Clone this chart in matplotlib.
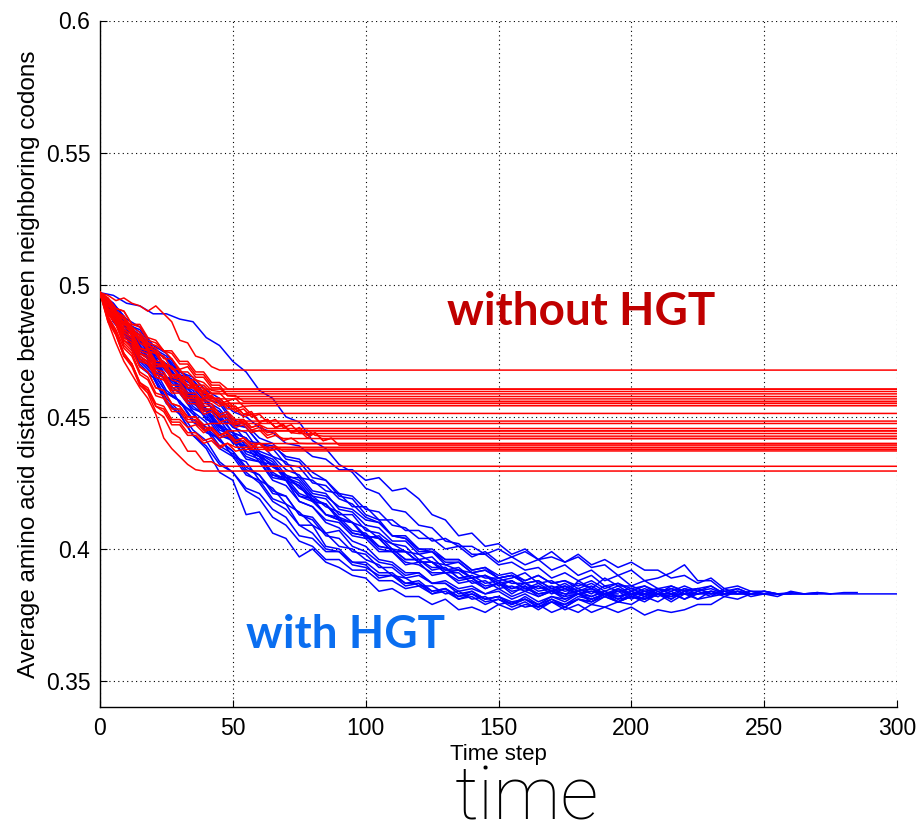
import matplotlib
matplotlib.use("Agg")
import matplotlib.pyplot as plt
import numpy as np

# ---------------- data ----------------
T_END = 300          # simulation length (time steps)
BLUE_DT = 5          # sampling interval of the blue runs
RED_DT = 3           # sampling interval of the red runs

# with HGT (blue runs) - average amino-acid distance every BLUE_DT steps
blue_runs = [
    [.497,.486,.480,.469,.465,.455,.451,.443,.438,.429,.426,.413,.414,.406,.404,.397,.400,.395,.393,.390,.389,.384,.385,.382,.382,.379,.381,.377,.378,.376,.379,.377,.379,.378,.380,.378,.381,.380,.383,.381,.382,.384,.382],
    [.497,.496,.493,.492,.489,.489,.487,.486,.480,.477,.471,.467,.460,.457,.450,.448,.441,.438,.432,.429,.423,.421,.415,.414,.409,.408,.403,.402,.398,.398,.394,.395,.392,.393,.389,.391,.388,.390,.386,.387,.385,.386,.384,.385,.383,.383],
    [.497,.492,.485,.481,.475,.472,.467,.465,.460,.457,.452,.450,.446,.444,.440,.439,.435,.434,.430,.430,.426,.427,.422,.423,.419,.413,.411,.405,.406,.401,.402,.398,.400,.396,.399,.395,.397,.393,.394,.390,.392,.388,.389,.391,.394,.388,.388,.384,.385,.383,.383],
    [.497,.489,.486,.478,.475,.468,.465,.458,.456,.449,.447,.441,.440,.435,.433,.427,.426,.422,.421,.416,.416,.411,.411,.407,.407,.403,.404,.401,.401,.398,.400,.397,.399,.396,.397,.395,.398,.394,.396,.393,.395,.392,.392,.389,.390,.387,.389,.385,.386,.384,.384,.383],
    [.497,.488,.482,.473,.469,.460,.456,.448,.445,.438,.435,.428,.426,.419,.417,.409,.406,.400,.399,.395,.394,.389,.390,.386,.387,.383,.385,.381,.383,.380,.381,.379,.381,.378,.380,.377,.379,.376,.378,.376,.378,.375,.377,.376,.377,.379,.379,.382,.381,.383],
    [.497,.490,.481,.477,.468,.464,.455,.452,.444,.442,.435,.433,.426,.423,.417,.414,.409,.406,.401,.400,.396,.394,.390,.389,.386,.386,.383,.384,.381,.382,.379,.380,.378,.379,.376,.378,.376,.379,.378,.380,.379,.382,.380,.383,.381,.383,.383],
    [.497,.490,.485,.478,.473,.467,.463,.457,.453,.447,.444,.439,.436,.431,.428,.423,.420,.416,.414,.410,.408,.404,.402,.399,.398,.395,.394,.392,.391,.389,.389,.387,.387,.385,.386,.384,.385,.383,.386,.384,.385,.383,.385,.384,.386,.384,.385,.383,.384,.383,.384,.383,.3835,.383,.3835,.383,.383,.383,.383,.383,.383],
    [.497,.488,.484,.476,.471,.465,.460,.454,.450,.443,.441,.434,.433,.426,.424,.418,.416,.411,.410,.405,.404,.399,.399,.395,.394,.391,.391,.388,.389,.385,.387,.383,.386,.382,.384,.381,.383,.380,.383,.380,.382,.381,.383,.380,.383,.381,.384,.382,.384,.382,.383,.382,.384,.383,.3835,.383,.3835,.3835],
    [.497,.492,.484,.479,.472,.469,.463,.459,.453,.450,.444,.442,.436,.434,.428,.426,.420,.419,.413,.413,.407,.406,.402,.401,.396,.397,.392,.393,.389,.390,.387,.388,.385,.387,.384,.386,.383,.385,.382,.385,.382,.381,.384,.381,.384,.385,.386,.383,.385,.383,.384,.383,.383,.383,.383],
    [.497,.489,.484,.476,.473,.465,.462,.456,.452,.446,.442,.437,.435,.429,.426,.420,.418,.413,.411,.406,.405,.401,.400,.396,.396,.392,.393,.389,.389,.386,.387,.385,.386,.383,.384,.382,.388,.385,.383,.380,.382,.381,.383,.382,.385,.384,.386,.383,.384,.383,.383,.383,.383],
    [.497,.493,.486,.482,.475,.472,.465,.462,.456,.453,.447,.446,.440,.439,.435,.434,.429,.426,.420,.419,.413,.411,.405,.404,.399,.399,.395,.395,.391,.392,.389,.390,.388,.390,.387,.388,.386,.388,.385,.387,.384,.386,.383,.385,.384,.383,.384,.383,.383],
    [.497,.487,.481,.472,.467,.459,.456,.451,.446,.439,.436,.429,.425,.418,.415,.409,.409,.401,.400,.395,.395,.391,.391,.387,.388,.384,.385,.382,.384,.381,.382,.380,.381,.379,.381,.378,.381,.380,.382,.380,.382,.380,.383,.381,.384,.381,.382,.383],
    [.497,.491,.484,.480,.472,.468,.460,.456,.449,.447,.441,.439,.435,.432,.426,.424,.418,.417,.411,.410,.404,.405,.400,.399,.395,.395,.391,.392,.389,.390,.388,.389,.391,.387,.388,.385,.387,.385,.389,.386,.386,.384,.385,.383,.383],
    [.497,.487,.481,.472,.467,.459,.456,.449,.446,.441,.437,.431,.428,.421,.420,.413,.412,.406,.407,.401,.399,.395,.394,.390,.391,.387,.388,.385,.386,.383,.384,.381,.383,.380,.382,.380,.383,.382,.384,.382,.384,.382,.383,.383],
    [.497,.490,.486,.478,.474,.465,.464,.456,.453,.446,.444,.437,.435,.428,.427,.421,.419,.413,.411,.406,.405,.400,.399,.394,.395,.390,.391,.387,.388,.385,.387,.384,.385,.383,.384,.382,.383,.381,.383,.382,.383,.383],
    [.497,.491,.483,.479,.471,.468,.460,.457,.449,.447,.440,.439,.433,.432,.427,.427,.421,.420,.416,.415,.411,.410,.405,.405,.400,.400,.396,.396,.392,.393,.389,.390,.387,.388,.385,.386,.384,.385,.383,.384,.383],
    [.497,.489,.484,.475,.470,.463,.459,.453,.451,.444,.441,.435,.433,.427,.426,.418,.416,.410,.408,.403,.401,.396,.395,.391,.391,.387,.387,.383,.384,.381,.382,.379,.381,.378,.381,.379,.382,.381,.383,.383],
    [.497,.491,.484,.481,.474,.470,.463,.460,.453,.451,.444,.442,.436,.433,.427,.425,.419,.417,.412,.410,.405,.404,.399,.399,.395,.395,.391,.391,.387,.388,.385,.386,.384,.386,.383,.385,.383,.384,.383],
    [.497,.488,.482,.474,.471,.463,.459,.452,.448,.441,.437,.430,.428,.422,.420,.413,.411,.405,.404,.399,.398,.393,.393,.389,.390,.387,.387,.384,.385,.383,.385,.382,.384,.382,.384,.383,.383],
    [.497,.492,.485,.483,.476,.473,.466,.464,.457,.455,.448,.446,.440,.438,.432,.431,.425,.424,.419,.417,.412,.410,.405,.404,.400,.399,.396,.396,.392,.393,.390,.391,.388,.390,.387,.388,.385,.387,.384,.386,.383,.385,.383,.386,.384,.385,.383,.384,.383,.383,.383],
    [.497,.487,.480,.471,.466,.457,.452,.445,.441,.433,.429,.423,.421,.415,.412,.405,.404,.399,.399,.394,.393,.390,.390,.387,.387,.384,.385,.382,.383,.381,.382,.379,.382,.379,.382,.381,.383,.381,.383,.382,.383,.383,.383],
    [.497,.491,.483,.479,.472,.468,.461,.458,.452,.449,.442,.440,.435,.432,.427,.424,.418,.417,.411,.410,.405,.404,.399,.399,.395,.395,.392,.392,.389,.390,.386,.388,.385,.386,.384,.385,.383,.384,.382,.384,.381,.383,.382,.384,.381,.384,.382,.385,.383,.384,.383,.383,.383,.383,.383,.383],
    [.497,.493,.487,.484,.477,.474,.467,.464,.458,.456,.449,.447,.442,.440,.434,.433,.427,.426,.421,.420,.415,.414,.409,.408,.404,.404,.400,.401,.397,.399,.395,.397,.394,.396,.392,.394,.390,.392,.388,.390,.386,.388,.385,.386,.384,.385,.383,.383],
    [.497,.486,.480,.470,.465,.456,.451,.443,.439,.432,.429,.422,.419,.412,.409,.403,.401,.396,.396,.392,.392,.388,.388,.385,.386,.383,.384,.381,.382,.379,.381,.378,.380,.377,.380,.379,.381,.379,.382,.380,.383,.381,.383,.382,.383,.383],
    [.497,.490,.485,.477,.472,.465,.462,.455,.452,.445,.443,.436,.434,.428,.426,.420,.419,.413,.412,.407,.406,.401,.400,.396,.396,.393,.393,.389,.390,.387,.388,.385,.387,.384,.385,.383,.384,.382,.384,.381,.384,.382,.385,.383,.385,.383,.384,.383,.383,.383],
    [.497,.491,.484,.481,.473,.470,.464,.461,.455,.452,.446,.444,.437,.435,.430,.428,.422,.421,.415,.414,.409,.408,.403,.403,.398,.399,.394,.395,.391,.392,.389,.390,.387,.388,.385,.387,.384,.386,.383,.385,.383,.384,.383,.383],
]

# without HGT (red runs) - every RED_DT steps; last value = frozen level kept to T_END
red_runs = [
    [.497,.496,.494,.495,.493,.492,.490,.492,.489,.486,.479,.478,.473,.472,.469,.4677],
    [.497,.492,.490,.485,.484,.479,.478,.474,.473,.468,.468,.464,.464,.4605],
    [.497,.494,.489,.488,.484,.482,.478,.477,.475,.472,.467,.467,.464,.463,.460,.4596],
    [.497,.490,.488,.483,.481,.476,.475,.470,.470,.466,.465,.461,.462,.459,.4587],
    [.497,.495,.491,.490,.485,.484,.479,.478,.475,.474,.470,.470,.466,.466,.462,.462,.458,.4577],
    [.497,.489,.486,.480,.478,.472,.471,.466,.465,.460,.460,.457,.4568],
    [.497,.494,.489,.487,.482,.481,.477,.476,.472,.472,.468,.469,.465,.465,.461,.461,.458,.458,.4559],
    [.497,.490,.488,.482,.480,.475,.474,.469,.469,.465,.464,.461,.461,.457,.458,.455,.4551],
    [.497,.493,.488,.486,.481,.480,.475,.474,.470,.469,.465,.465,.462,.462,.459,.459,.456,.457,.454,.4542],
    [.497,.491,.489,.483,.481,.476,.475,.470,.469,.465,.465,.461,.461,.457,.458,.455,.456,.453,.454,.451,.4513],
    [.497,.490,.487,.481,.479,.473,.471,.466,.465,.460,.460,.456,.456,.452,.453,.450,.451,.448,.4484],
    [.497,.489,.485,.478,.475,.469,.467,.461,.460,.455,.454,.450,.450,.447,.4475],
    [.497,.492,.490,.484,.482,.476,.475,.470,.469,.464,.463,.459,.459,.455,.455,.451,.452,.449,.449,.446,.447,.4456],
    [.497,.491,.488,.482,.480,.474,.473,.468,.467,.462,.462,.458,.458,.454,.454,.450,.451,.448,.449,.446,.447,.444,.4447],
    [.497,.494,.489,.487,.482,.480,.475,.474,.469,.469,.465,.464,.460,.460,.457,.457,.454,.454,.451,.451,.448,.449,.446,.447,.444,.4437],
    [.497,.492,.490,.485,.483,.478,.476,.471,.471,.466,.466,.462,.462,.458,.458,.455,.455,.452,.453,.450,.451,.448,.449,.446,.447,.444,.445,.443,.4427],
    [.497,.490,.487,.480,.478,.472,.470,.465,.464,.459,.459,.455,.455,.451,.452,.448,.449,.446,.447,.444,.445,.442,.443,.4418],
    [.497,.491,.489,.482,.480,.474,.472,.467,.466,.461,.461,.457,.457,.453,.453,.450,.450,.447,.448,.445,.446,.443,.444,.441,.442,.440,.4399],
    [.497,.488,.483,.476,.473,.466,.464,.458,.457,.452,.452,.448,.448,.445,.446,.443,.444,.441,.442,.440,.4399],
    [.497,.494,.489,.487,.482,.481,.476,.475,.470,.469,.465,.465,.461,.461,.457,.457,.454,.454,.451,.452,.448,.449,.446,.447,.444,.445,.442,.444,.441,.442,.4393],
    [.497,.487,.481,.473,.469,.462,.460,.454,.453,.448,.448,.444,.444,.441,.442,.439,.440,.4385],
    [.497,.489,.485,.477,.474,.467,.465,.459,.458,.453,.453,.449,.449,.445,.445,.442,.443,.440,.441,.438,.440,.437,.4377],
    [.497,.488,.482,.474,.470,.463,.460,.454,.452,.447,.447,.443,.443,.440,.441,.438,.440,.437,.4377],
    [.497,.490,.486,.479,.476,.469,.467,.461,.460,.455,.454,.450,.450,.446,.446,.443,.444,.441,.442,.439,.440,.438,.439,.437,.4371],
    [.497,.486,.481,.473,.470,.462,.459,.452,.450,.444,.442,.437,.437,.433,.433,.4313],
    [.497,.486,.478,.471,.466,.461,.457,.451,.442,.438,.435,.432,.430,.4295],
    [.497,.495,.491,.490,.485,.485,.480,.479,.475,.475,.471,.471,.467,.467,.463,.463,.4605],
    [.497,.489,.486,.479,.477,.471,.470,.465,.464,.460,.460,.457,.458,.456,.456,.454,.4551],
    [.497,.487,.482,.474,.470,.463,.461,.455,.454,.449,.449,.446,.447,.444,.446,.443,.4447],
    [.497,.494,.490,.488,.483,.481,.476,.475,.470,.469,.465,.464,.460,.460,.456,.456,.453,.453,.450,.451,.448,.449,.446,.447,.444,.446,.443,.444,.441,.4418],
]

x_ticks = [0, 50, 100, 150, 200, 250, 300]
y_ticks = [0.35, 0.4, 0.45, 0.5, 0.55, 0.6]
y_tick_labels = ["0.35", "0.4", "0.45", "0.5", "0.55", "0.6"]

# ---------------- figure ----------------
W, H = 919, 836
fig = plt.figure(figsize=(W / 100, H / 100), dpi=100)
ax = fig.add_axes([100 / W, (H - 707) / H, 797 / W, (707 - 20.5) / H])

tick_font = ["Liberation Sans", "DejaVu Sans"]

n = max(len(blue_runs), len(red_runs))
for i in range(n):
    if i < len(blue_runs):
        v = np.array(blue_runs[i])
        t = np.arange(len(v)) * BLUE_DT
        ax.plot(t, v, color=(0, 0, 1), lw=1.1, zorder=2)
    if i < len(red_runs):
        v = np.array(red_runs[i] + [red_runs[i][-1]])
        t = np.append(np.arange(len(red_runs[i])) * RED_DT, T_END)
        ax.plot(t, v, color=(1, 0, 0), lw=1.1, zorder=3)

ax.set_xlim(0, 300)
ax.set_ylim(0.3402, 0.6)
ax.set_xticks(x_ticks)
ax.set_yticks(y_ticks)
ax.set_yticklabels(y_tick_labels)
ax.grid(True, linestyle=(0, (1, 3)), color="black", lw=0.8)
ax.set_axisbelow(True)
for s in ["top", "right"]:
    ax.spines[s].set_visible(False)
for s in ["left", "bottom"]:
    ax.spines[s].set_linewidth(1.0)
ax.tick_params(direction="in", length=5, width=0.8, labelsize=16.5, pad=7)
for lab in ax.get_xticklabels() + ax.get_yticklabels():
    lab.set_family(tick_font)

ax.set_xlabel("Time step", family=tick_font, fontsize=16, labelpad=3)
ax.set_ylabel("Average amino acid distance between neighboring codons",
              family=tick_font, fontsize=17.5, labelpad=4)

fig.text(581 / W, 1 - 325 / H, "without HGT", color="#C00000", fontsize=33,
         fontweight="bold", family=["Lato", "DejaVu Sans"],
         ha="center", va="baseline")
fig.text(346 / W, 1 - 648 / H, "with HGT", color="#0A6EF0", fontsize=33,
         fontweight="bold", family=["Lato", "DejaVu Sans"],
         ha="center", va="baseline")
fig.text(527 / W, 1 - 819 / H, "time", color="black", fontsize=54,
         fontweight="light", family=["Roboto", "DejaVu Sans"],
         ha="center", va="baseline")

fig.savefig("out.png", dpi=100)
